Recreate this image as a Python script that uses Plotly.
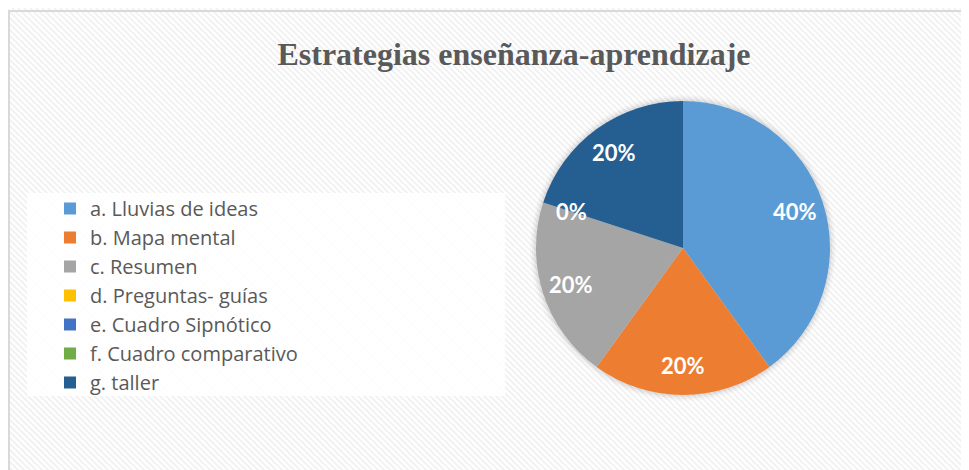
import math
import plotly.graph_objects as go

W, H = 969, 470
OFF = 8  # page body margin

title_text = "Estrategias enseñanza-aprendizaje"
categories = ["a. Lluvias de ideas", "b. Mapa mental", "c. Resumen", "d. Preguntas- guías",
              "e. Cuadro Sipnótico", "f. Cuadro comparativo", "g. taller"]
values = [40, 20, 20, 0, 0, 0, 20]
colors = ["#5b9bd5", "#ed7d31", "#a5a5a5", "#ffc000", "#4472c4", "#70ad47", "#255e91"]


def px(x):
    return (x - OFF) / W


def py(y):
    return (H - (y - OFF)) / H


cx, cy, R = 683, 248, 147

fig = go.Figure()
fig.add_trace(go.Pie(
    labels=categories, values=values, sort=False, direction="clockwise", rotation=0,
    marker=dict(colors=colors, line=dict(width=0)),
    textinfo="none",
    domain=dict(x=[px(cx - R), px(cx + R)], y=[py(cy + R), py(cy - R)]),
    showlegend=True, hoverinfo="label+percent",
))

shapes = []
period = 6
for k in range(-H, W + H, period):
    shapes.append(dict(type="line", xref="paper", yref="paper",
                       x0=k / W, y0=1, x1=(k + H) / W, y1=0,
                       line=dict(color="#f2f2f2", width=2), layer="below"))
shapes.append(dict(type="rect", xref="paper", yref="paper",
                   x0=px(9), y0=-0.05, x1=1.05, y1=py(11),
                   line=dict(color="#d9d9d9", width=2), fillcolor="rgba(0,0,0,0)", layer="below"))
shapes.append(dict(type="rect", xref="paper", yref="paper",
                   x0=px(27), y0=py(396), x1=px(505), y1=py(193),
                   line=dict(width=0), fillcolor="rgba(255,255,255,0.85)", layer="below"))
for extra, alpha in [(6, 0.025), (4, 0.035), (2, 0.05)]:
    shapes.append(dict(type="circle", xref="paper", yref="paper",
                       x0=px(cx - R - extra), x1=px(cx + R + extra),
                       y0=py(cy + R + extra), y1=py(cy - R - extra),
                       line=dict(width=0), fillcolor=f"rgba(0,0,0,{alpha})", layer="below"))

# data labels placed at each slice's mid-angle (zero slices share one label, as in the original)
total = sum(values)
annotations = []
cum = 0
zero_done = False
for v in values:
    mid = 2 * math.pi * (cum + v / 2) / total
    cum += v
    if v == 0:
        if zero_done:
            continue
        zero_done = True
    rr = 0.8 * R
    lx = cx + rr * math.sin(mid)
    ly = cy - rr * math.cos(mid)
    annotations.append(dict(text=f"{v / total:.0%}", x=px(lx), y=py(ly), xref="paper", yref="paper",
                            xanchor="center", yanchor="middle", showarrow=False,
                            font=dict(family="Lato", size=22, color="white", weight="bold")))

fig.update_layout(
    width=W, height=H, margin=dict(l=0, r=0, t=0, b=0),
    paper_bgcolor="white", plot_bgcolor="white",
    shapes=shapes, annotations=annotations,
    title=dict(text=title_text, x=px(514), xanchor="center", y=py(54), yanchor="middle",
               font=dict(family="Liberation Serif", size=32, color="#595959", weight="bold")),
    legend=dict(x=px(50), xanchor="left", y=py(189), yanchor="top",
                bgcolor="rgba(0,0,0,0)", font=dict(family="Open Sans", size=20, color="#595959"),
                traceorder="normal", itemclick=False),
)

fig.write_html("out.html")
